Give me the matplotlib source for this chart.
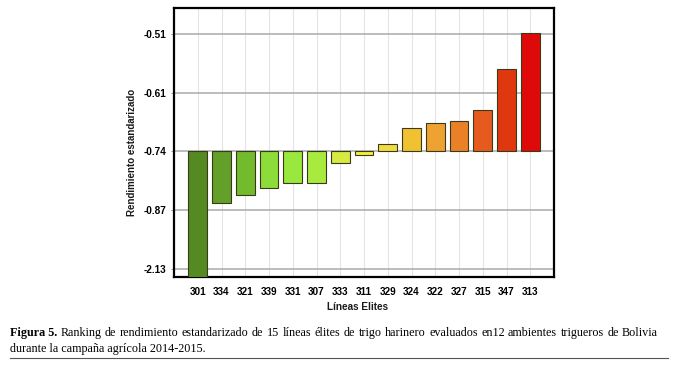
import numpy as np
import matplotlib
matplotlib.use("Agg")
import matplotlib.pyplot as plt

lines = ["301", "334", "321", "339", "331", "307", "333", "311",
         "329", "324", "322", "327", "315", "347", "313"]
values = [-2.30, -0.855, -0.837, -0.821, -0.809, -0.809, -0.765, -0.748,
          -0.724, -0.688, -0.678, -0.672, -0.648, -0.569, -0.508]
colors = ["#558a22", "#62a02a", "#72bb2c", "#8cdc3a", "#9ae83e", "#a9ea3e",
          "#d6ea42", "#f2f232", "#f0dc40", "#f0c232", "#eea232", "#ea8028",
          "#e65a1e", "#e0380e", "#de0a0a"]
ytick_vals = [-2.13, -0.87, -0.74, -0.61, -0.51]
baseline = -0.74

# piecewise-linear scale: equally spaced tick labels
knots = np.array(ytick_vals)
pos = np.arange(len(knots), dtype=float)

def forward(v):
    v = np.asarray(v, dtype=float)
    out = np.interp(v, knots, pos)
    lo = v < knots[0]
    hi = v > knots[-1]
    out = np.where(lo, pos[0] + (v - knots[0]) / (knots[1] - knots[0]), out)
    out = np.where(hi, pos[-1] + (v - knots[-1]) / (knots[-1] - knots[-2]), out)
    return out

def inverse(p):
    p = np.asarray(p, dtype=float)
    out = np.interp(p, pos, knots)
    lo = p < pos[0]
    hi = p > pos[-1]
    out = np.where(lo, knots[0] + (p - pos[0]) * (knots[1] - knots[0]), out)
    out = np.where(hi, knots[-1] + (p - pos[-1]) * (knots[-1] - knots[-2]), out)
    return out

W, H = 678, 368
fig = plt.figure(figsize=(W / 100, H / 100), dpi=100)
ax = fig.add_axes([174 / W, 1 - 277 / H, 380 / W, 269 / H])
ax.set_yscale("function", functions=(forward, inverse))

x = np.arange(len(lines))
heights = [v - baseline for v in values]
ax.bar(x, heights, bottom=baseline, width=0.78, color=colors,
       edgecolor="#3a3a1a", linewidth=0.8, zorder=3)

ax.set_xlim(-1, len(lines))
ax.set_ylim(-2.30, -0.466)
ax.set_yticks(ytick_vals)
ax.set_yticklabels([f"{v:.2f}" for v in ytick_vals])
ax.yaxis.set_minor_locator(matplotlib.ticker.NullLocator())
ax.set_xticks(x)
ax.set_xticklabels(lines)

for t in ax.get_xticklabels() + ax.get_yticklabels():
    t.set_fontweight("bold")
    t.set_fontfamily("Liberation Sans")
    t.set_fontsize(7.2)
ax.tick_params(axis="x", length=0, pad=7.5)
ax.tick_params(axis="y", length=2, width=0.6, color="#888888", pad=3.5)

ax.grid(axis="y", color="#b0b0b0", linewidth=1.2, zorder=1)
ax.grid(axis="x", color="#e4e4e4", linewidth=0.8, zorder=1)
for s in ax.spines.values():
    s.set_linewidth(1.6)
    s.set_color("black")

fig.text(132 / W, 1 - 152 / H, "Rendimiento estandarizado", rotation=90,
         ha="center", va="center", fontsize=7, fontweight="bold",
         family="Liberation Sans", color="#1a1a1a")
fig.text(358 / W, 1 - 307 / H, "Líneas Elites", ha="center", va="center",
         fontsize=7.2, fontweight="bold", family="Liberation Sans",
         color="#1a1a1a")

# caption (first line justified between x=10 and x=658)
cap_fs = 8.7
y1 = 1 - 333 / H
fig.canvas.draw()
r = fig.canvas.get_renderer()
words = ["Ranking", "de", "rendimiento", "estandarizado", "de", "15", "líneas",
         "élites", "de", "trigo", "harinero", "evaluados", "en12", "ambientes",
         "trigueros", "de", "Bolivia"]
t1 = fig.text(10 / W, y1, "Figura 5.", ha="left", va="center",
              fontsize=cap_fs, fontweight="bold", family="Liberation Serif")
artists = [t1] + [fig.text(0, y1, w, ha="left", va="center", fontsize=cap_fs,
                           family="Liberation Serif") for w in words]
widths = [a.get_window_extent(r).width for a in artists]
gap = (658 - 10 - sum(widths)) / (len(artists) - 1)
xpos = 10.0
for a, w in zip(artists, widths):
    a.set_x(xpos / W)
    xpos += w + gap
fig.text(10 / W, 1 - 349 / H, "durante la campaña agrícola 2014-2015.",
         ha="left", va="center", fontsize=cap_fs, family="Liberation Serif")
fig.add_artist(plt.Line2D([10 / W, 668 / W], [1 - 358 / H, 1 - 358 / H],
                          color="#555555", linewidth=0.8))

fig.savefig("out.png", dpi=100)
